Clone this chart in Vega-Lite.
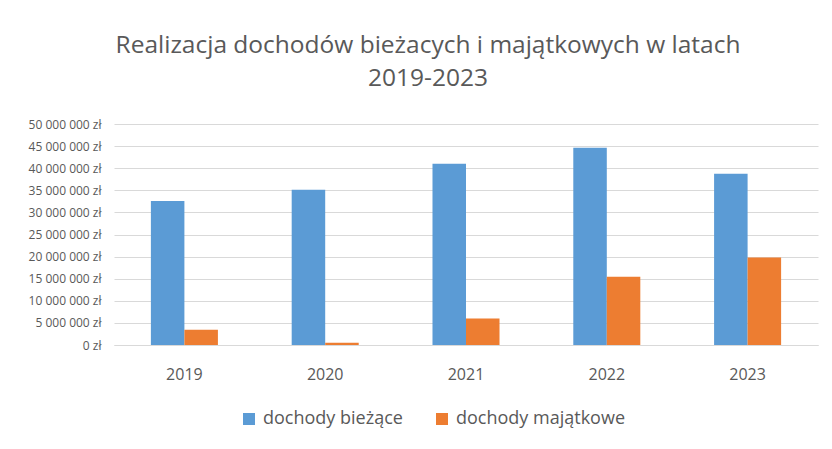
{
  "$schema": "https://vega.github.io/schema/vega-lite/v6.json",
  "width": 704,
  "height": 221,
  "autosize": {"type": "none"},
  "padding": {"left": 114, "top": 124, "right": 14, "bottom": 104},
  "background": "white",
  "title": {
    "text": ["Realizacja dochodów bieżacych i majątkowych w latach", "2019-2023"],
    "anchor": "middle",
    "frame": "group",
    "dx": -38,
    "offset": 27,
    "fontSize": 24.5,
    "lineHeight": 33,
    "font": "Open Sans",
    "fontWeight": "normal",
    "color": "#595959"
  },
  "config": {
    "locale": {
      "number": {"decimal": ",", "thousands": " ", "grouping": [3], "currency": ["", " zł"]}
    },
    "view": {"stroke": null},
    "font": "Open Sans"
  },
  "data": {
    "values": [
      {"rok": "2019", "rodzaj": "dochody bieżące", "wartosc": 32600000},
      {"rok": "2019", "rodzaj": "dochody majątkowe", "wartosc": 3450000},
      {"rok": "2020", "rodzaj": "dochody bieżące", "wartosc": 35100000},
      {"rok": "2020", "rodzaj": "dochody majątkowe", "wartosc": 500000},
      {"rok": "2021", "rodzaj": "dochody bieżące", "wartosc": 41000000},
      {"rok": "2021", "rodzaj": "dochody majątkowe", "wartosc": 6000000},
      {"rok": "2022", "rodzaj": "dochody bieżące", "wartosc": 44600000},
      {"rok": "2022", "rodzaj": "dochody majątkowe", "wartosc": 15450000},
      {"rok": "2023", "rodzaj": "dochody bieżące", "wartosc": 38750000},
      {"rok": "2023", "rodzaj": "dochody majątkowe", "wartosc": 19800000}
    ]
  },
  "mark": {"type": "bar"},
  "encoding": {
    "x": {
      "field": "rok",
      "type": "nominal",
      "scale": {"paddingInner": 0.524, "paddingOuter": 0.262},
      "axis": {
        "title": null,
        "labelAngle": 0,
        "ticks": false,
        "domain": true,
        "domainColor": "#D9D9D9",
        "labelFontSize": 16,
        "labelColor": "#595959",
        "labelPadding": 21,
        "labelFont": "Open Sans"
      }
    },
    "xOffset": {
      "field": "rodzaj",
      "type": "nominal",
      "sort": ["dochody bieżące", "dochody majątkowe"],
      "scale": {"paddingInner": 0, "paddingOuter": 0}
    },
    "y": {
      "field": "wartosc",
      "type": "quantitative",
      "scale": {"domain": [0, 50000000], "nice": false},
      "axis": {
        "title": null,
        "values": [0, 5000000, 10000000, 15000000, 20000000, 25000000, 30000000, 35000000, 40000000, 45000000, 50000000],
        "format": "$,.0f",
        "domain": false,
        "ticks": false,
        "grid": true,
        "gridColor": "#D9D9D9",
        "gridWidth": 1,
        "labelFontSize": 12,
        "labelColor": "#595959",
        "labelPadding": 13,
        "labelFont": "Open Sans"
      }
    },
    "color": {
      "field": "rodzaj",
      "type": "nominal",
      "scale": {"domain": ["dochody bieżące", "dochody majątkowe"], "range": ["#5B9BD5", "#ED7D31"]},
      "legend": {
        "title": null,
        "orient": "none",
        "direction": "horizontal",
        "legendX": 126,
        "legendY": 286,
        "symbolType": "square",
        "symbolSize": 144,
        "symbolStrokeWidth": 0,
        "labelFontSize": 18,
        "labelColor": "#595959",
        "labelFont": "Open Sans",
        "labelOffset": 5,
        "columnPadding": 30,
        "labelLimit": 300
      }
    }
  }
}
